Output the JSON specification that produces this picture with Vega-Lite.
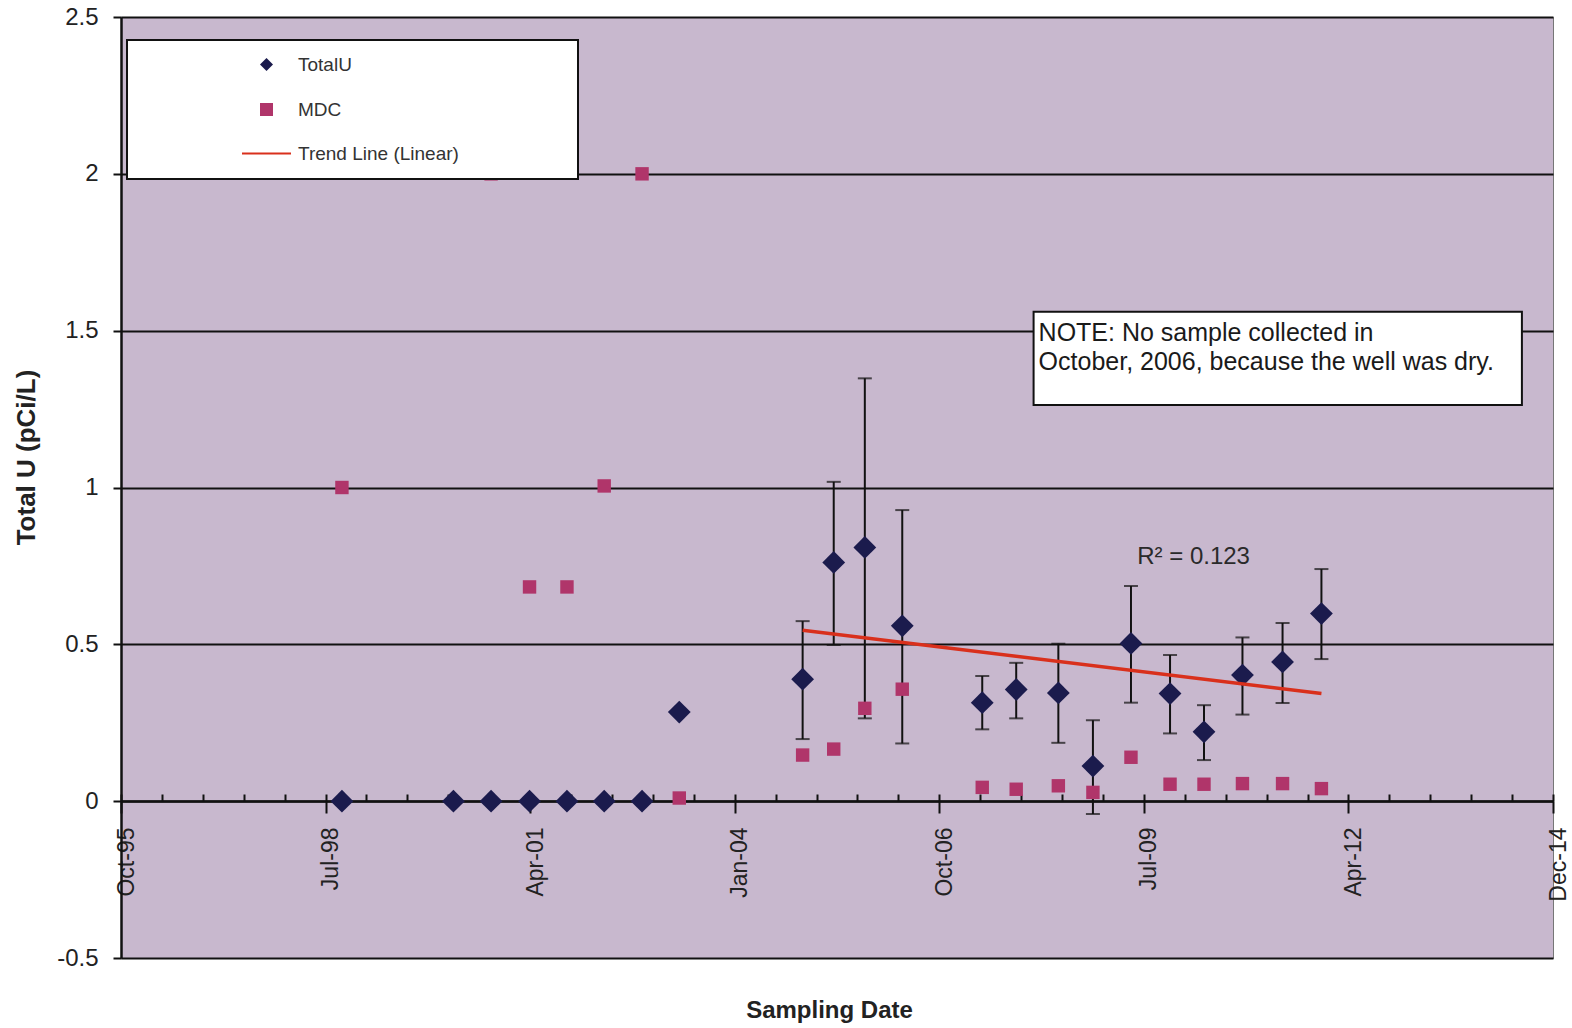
{
  "$schema": "https://vega.github.io/schema/vega-lite/v6.json",
  "width": 1432,
  "height": 941,
  "autosize": {"type": "none"},
  "padding": {"left": 121, "top": 17, "right": 19, "bottom": 70},
  "background": "white",
  "datasets": {
    "totalu": [
      {"date": "1998-10-12", "u": 0},
      {"date": "2000-04-09", "u": 0},
      {"date": "2000-10-10", "u": 0},
      {"date": "2001-04-16", "u": 0},
      {"date": "2001-10-16", "u": 0},
      {"date": "2002-04-16", "u": 0},
      {"date": "2002-10-18", "u": 0},
      {"date": "2003-04-18", "u": 0.284},
      {"date": "2004-12-11", "u": 0.389, "lo": 0.198, "hi": 0.574},
      {"date": "2005-05-12", "u": 0.761, "lo": 0.498, "hi": 1.018},
      {"date": "2005-10-11", "u": 0.809, "lo": 0.264, "hi": 1.348},
      {"date": "2006-04-12", "u": 0.559, "lo": 0.184, "hi": 0.928},
      {"date": "2007-05-08", "u": 0.314, "lo": 0.229, "hi": 0.399},
      {"date": "2007-10-21", "u": 0.356, "lo": 0.264, "hi": 0.441},
      {"date": "2008-05-14", "u": 0.345, "lo": 0.186, "hi": 0.502},
      {"date": "2008-10-30", "u": 0.112, "lo": -0.041, "hi": 0.258},
      {"date": "2009-05-04", "u": 0.503, "lo": 0.314, "hi": 0.686},
      {"date": "2009-11-11", "u": 0.343, "lo": 0.216, "hi": 0.466},
      {"date": "2010-04-26", "u": 0.221, "lo": 0.131, "hi": 0.306},
      {"date": "2010-10-31", "u": 0.402, "lo": 0.276, "hi": 0.522},
      {"date": "2011-05-15", "u": 0.444, "lo": 0.313, "hi": 0.568},
      {"date": "2011-11-21", "u": 0.598, "lo": 0.453, "hi": 0.740}
    ],
    "mdc": [
      {"date": "1998-10-12", "mdc": 1.0},
      {"date": "2000-10-10", "mdc": 2.0},
      {"date": "2001-04-16", "mdc": 0.683},
      {"date": "2001-10-16", "mdc": 0.683},
      {"date": "2002-04-16", "mdc": 1.005},
      {"date": "2002-10-18", "mdc": 2.0},
      {"date": "2003-04-18", "mdc": 0.01},
      {"date": "2004-12-11", "mdc": 0.147},
      {"date": "2005-05-12", "mdc": 0.166},
      {"date": "2005-10-11", "mdc": 0.296},
      {"date": "2006-04-12", "mdc": 0.357},
      {"date": "2007-05-08", "mdc": 0.044},
      {"date": "2007-10-21", "mdc": 0.038},
      {"date": "2008-05-14", "mdc": 0.049},
      {"date": "2008-10-30", "mdc": 0.028},
      {"date": "2009-05-04", "mdc": 0.140},
      {"date": "2009-11-11", "mdc": 0.054},
      {"date": "2010-04-26", "mdc": 0.054},
      {"date": "2010-10-31", "mdc": 0.056},
      {"date": "2011-05-15", "mdc": 0.056},
      {"date": "2011-11-21", "mdc": 0.040}
    ],
    "trend": [
      {"date": "2004-12-11", "fit": 0.545},
      {"date": "2011-11-21", "fit": 0.343}
    ],
    "rsq": [
      {"date": "2010-03-06", "value": 0.779, "text": "R² = 0.123"}
    ],
    "note": [
      {"start": "2008-01-14", "end": "2014-07-28", "top": 1.56, "bottom": 1.263, "text": "NOTE: No sample collected in\nOctober, 2006, because the well was dry."}
    ]
  },
  "resolve": {"axis": {"x": "independent"}},
  "layer": [
    {
      "data": {"name": "totalu"},
      "mark": {"type": "errorbar", "color": "#111", "thickness": 2, "ticks": {"size": 14, "thickness": 2, "color": "#111"}},
      "encoding": {
        "x": {"field": "date", "type": "temporal", "scale": {"type": "utc", "domain": [814838400000, 1419638400000]}, "axis": null},
        "y": {"field": "lo", "type": "quantitative", "title": "Total U (pCi/L)", "scale": {"domain": [-0.5, 2.5], "nice": false, "zero": false}},
        "y2": {"field": "hi"}
      }
    },
    {
      "data": {"name": "mdc"},
      "mark": {"type": "point", "filled": true, "size": 180, "opacity": 1},
      "encoding": {
        "x": {
          "field": "date", "type": "temporal",
          "scale": {"type": "utc", "domain": [814838400000, 1419638400000]},
          "axis": {
            "orient": "bottom", "offset": -157,
            "values": [814838400000, 901238400000, 987638400000, 1074038400000, 1160438400000, 1246838400000, 1333238400000, 1419638400000],
            "labelExpr": "utcFormat(datum.value, '%b-%y')",
            "labelAngle": -90, "labelFontSize": 23, "labelFont": "Liberation Sans", "labelColor": "#222",
            "labelPadding": 14, "labelOffset": 5, "labelOverlap": false, "labelFlush": false, "labelBound": false,
            "tickSize": 12, "tickWidth": 2, "tickColor": "#111",
            "domainColor": "#111", "domainWidth": 2.5, "grid": false,
            "title": "Sampling Date", "titleFontSize": 24, "titleFontWeight": "bold", "titleFont": "Liberation Sans", "titleColor": "#222",
            "titleX": 708, "titleY": 209, "titleAlign": "center", "titleBaseline": "middle",
            "zindex": 0
          }
        },
        "y": {
          "field": "mdc", "type": "quantitative", "title": "Total U (pCi/L)",
          "scale": {"domain": [-0.5, 2.5], "nice": false, "zero": false},
          "axis": {
            "values": [-0.5, 0, 0.5, 1, 1.5, 2, 2.5],
            "labelExpr": "'' + datum.value",
            "labelFontSize": 24, "labelFont": "Liberation Sans", "labelColor": "#222", "labelPadding": 15,
            "labelOverlap": false, "labelFlush": false,
            "tickSize": 8, "tickWidth": 2, "tickColor": "#111",
            "domainColor": "#111", "domainWidth": 2.5,
            "grid": true, "gridColor": "#111", "gridWidth": 2,
            "title": "Total U (pCi/L)", "titleFontSize": 26, "titleFontWeight": "bold", "titleFont": "Liberation Sans", "titleColor": "#222",
            "titleX": -95, "titleY": 440, "titleAngle": -90, "titleAlign": "center", "titleBaseline": "middle",
            "zindex": 0
          }
        },
        "fill": {
          "datum": "MDC",
          "scale": {"domain": ["TotalU", "MDC", "Trend Line (Linear)"], "range": ["#1b1b4d", "#b0356a", "transparent"]},
          "legend": {
            "title": "\u00a0", "titleOrient": "right", "titlePadding": 104, "titleFontSize": 19,
            "orient": "none", "legendX": 6, "legendY": 23,
            "fillColor": "white", "strokeColor": "#111", "padding": 15,
            "symbolSize": 169, "symbolStrokeWidth": 2, "symbolOffset": 115,
            "labelOffset": 22, "labelFontSize": 19, "labelFont": "Liberation Sans", "labelColor": "#333", "labelLimit": 500,
            "rowPadding": 24
          }
        },
        "shape": {
          "datum": "MDC",
          "scale": {"domain": ["TotalU", "MDC", "Trend Line (Linear)"], "range": ["diamond", "square", "M-3.77,0L3.77,0"]},
          "legend": {
            "title": "\u00a0", "titleOrient": "right", "titlePadding": 104, "titleFontSize": 19,
            "orient": "none", "legendX": 6, "legendY": 23,
            "fillColor": "white", "strokeColor": "#111", "padding": 15,
            "symbolSize": 169, "symbolStrokeWidth": 2, "symbolOffset": 115,
            "labelOffset": 22, "labelFontSize": 19, "labelFont": "Liberation Sans", "labelColor": "#333", "labelLimit": 500,
            "rowPadding": 24
          }
        }
      }
    },
    {
      "data": {"name": "totalu"},
      "mark": {"type": "point", "filled": true, "size": 520, "opacity": 1},
      "encoding": {
        "x": {
          "field": "date", "type": "temporal",
          "scale": {"type": "utc", "domain": [814838400000, 1419638400000]},
          "axis": {
            "orient": "bottom", "offset": -157,
            "values": [814838400000, 832118400000, 849398400000, 866678400000, 883958400000, 901238400000, 918518400000, 935798400000, 953078400000, 970358400000, 987638400000, 1004918400000, 1022198400000, 1039478400000, 1056758400000, 1074038400000, 1091318400000, 1108598400000, 1125878400000, 1143158400000, 1160438400000, 1177718400000, 1194998400000, 1212278400000, 1229558400000, 1246838400000, 1264118400000, 1281398400000, 1298678400000, 1315958400000, 1333238400000, 1350518400000, 1367798400000, 1385078400000, 1402358400000, 1419638400000],
            "labels": false, "domain": false, "grid": false, "title": null,
            "tickSize": -7, "tickWidth": 2, "tickColor": "#111",
            "zindex": 0
          }
        },
        "y": {"field": "u", "type": "quantitative", "title": "Total U (pCi/L)", "scale": {"domain": [-0.5, 2.5], "nice": false, "zero": false}},
        "fill": {
          "datum": "TotalU",
          "scale": {"domain": ["TotalU", "MDC", "Trend Line (Linear)"], "range": ["#1b1b4d", "#b0356a", "transparent"]},
          "legend": {
            "title": "\u00a0", "titleOrient": "right", "titlePadding": 104, "titleFontSize": 19,
            "orient": "none", "legendX": 6, "legendY": 23,
            "fillColor": "white", "strokeColor": "#111", "padding": 15,
            "symbolSize": 169, "symbolStrokeWidth": 2, "symbolOffset": 115,
            "labelOffset": 22, "labelFontSize": 19, "labelFont": "Liberation Sans", "labelColor": "#333", "labelLimit": 500,
            "rowPadding": 24
          }
        },
        "shape": {
          "datum": "TotalU",
          "scale": {"domain": ["TotalU", "MDC", "Trend Line (Linear)"], "range": ["diamond", "square", "M-3.77,0L3.77,0"]},
          "legend": {
            "title": "\u00a0", "titleOrient": "right", "titlePadding": 104, "titleFontSize": 19,
            "orient": "none", "legendX": 6, "legendY": 23,
            "fillColor": "white", "strokeColor": "#111", "padding": 15,
            "symbolSize": 169, "symbolStrokeWidth": 2, "symbolOffset": 115,
            "labelOffset": 22, "labelFontSize": 19, "labelFont": "Liberation Sans", "labelColor": "#333", "labelLimit": 500,
            "rowPadding": 24
          }
        }
      }
    },
    {
      "data": {"name": "trend"},
      "mark": {"type": "line", "strokeWidth": 3.5},
      "encoding": {
        "x": {"field": "date", "type": "temporal", "scale": {"type": "utc", "domain": [814838400000, 1419638400000]}, "axis": null},
        "y": {"field": "fit", "type": "quantitative", "title": "Total U (pCi/L)", "scale": {"domain": [-0.5, 2.5], "nice": false, "zero": false}},
        "stroke": {
          "datum": "Trend Line (Linear)",
          "scale": {"domain": ["TotalU", "MDC", "Trend Line (Linear)"], "range": ["transparent", "transparent", "#d9301c"]},
          "legend": {
            "title": "\u00a0", "titleOrient": "right", "titlePadding": 104, "titleFontSize": 19,
            "orient": "none", "legendX": 6, "legendY": 23,
            "fillColor": "white", "strokeColor": "#111", "padding": 15,
            "symbolSize": 169, "symbolStrokeWidth": 2, "symbolOffset": 115,
            "labelOffset": 22, "labelFontSize": 19, "labelFont": "Liberation Sans", "labelColor": "#333", "labelLimit": 500,
            "rowPadding": 24
          }
        }
      }
    },
    {
      "data": {"name": "rsq"},
      "mark": {"type": "text", "font": "Liberation Sans", "fontSize": 24, "color": "#2a2a2a", "align": "center", "baseline": "middle"},
      "encoding": {
        "x": {"field": "date", "type": "temporal", "scale": {"type": "utc", "domain": [814838400000, 1419638400000]}, "axis": null},
        "y": {"field": "value", "type": "quantitative", "title": "Total U (pCi/L)", "scale": {"domain": [-0.5, 2.5], "nice": false, "zero": false}},
        "text": {"field": "text"}
      }
    },
    {
      "data": {"name": "note"},
      "mark": {"type": "rect", "fill": "white", "stroke": "#111", "strokeWidth": 2},
      "encoding": {
        "x": {"field": "start", "type": "temporal", "scale": {"type": "utc", "domain": [814838400000, 1419638400000]}, "axis": null},
        "x2": {"field": "end"},
        "y": {"field": "top", "type": "quantitative", "title": "Total U (pCi/L)", "scale": {"domain": [-0.5, 2.5], "nice": false, "zero": false}},
        "y2": {"field": "bottom"}
      }
    },
    {
      "data": {"name": "note"},
      "mark": {"type": "text", "font": "Liberation Sans", "fontSize": 25, "color": "#1a1a1a", "align": "left", "baseline": "alphabetic", "lineBreak": "\n", "lineHeight": 29, "dx": 5, "dy": 29},
      "encoding": {
        "x": {"field": "start", "type": "temporal", "scale": {"type": "utc", "domain": [814838400000, 1419638400000]}, "axis": null},
        "y": {"field": "top", "type": "quantitative", "title": "Total U (pCi/L)", "scale": {"domain": [-0.5, 2.5], "nice": false, "zero": false}},
        "text": {"field": "text"}
      }
    }
  ],
  "config": {
    "font": "Liberation Sans",
    "view": {"fill": "#c8b8ce", "stroke": "#777777", "strokeWidth": 1},
    "legend": {"strokeWidth": 2}
  }
}
